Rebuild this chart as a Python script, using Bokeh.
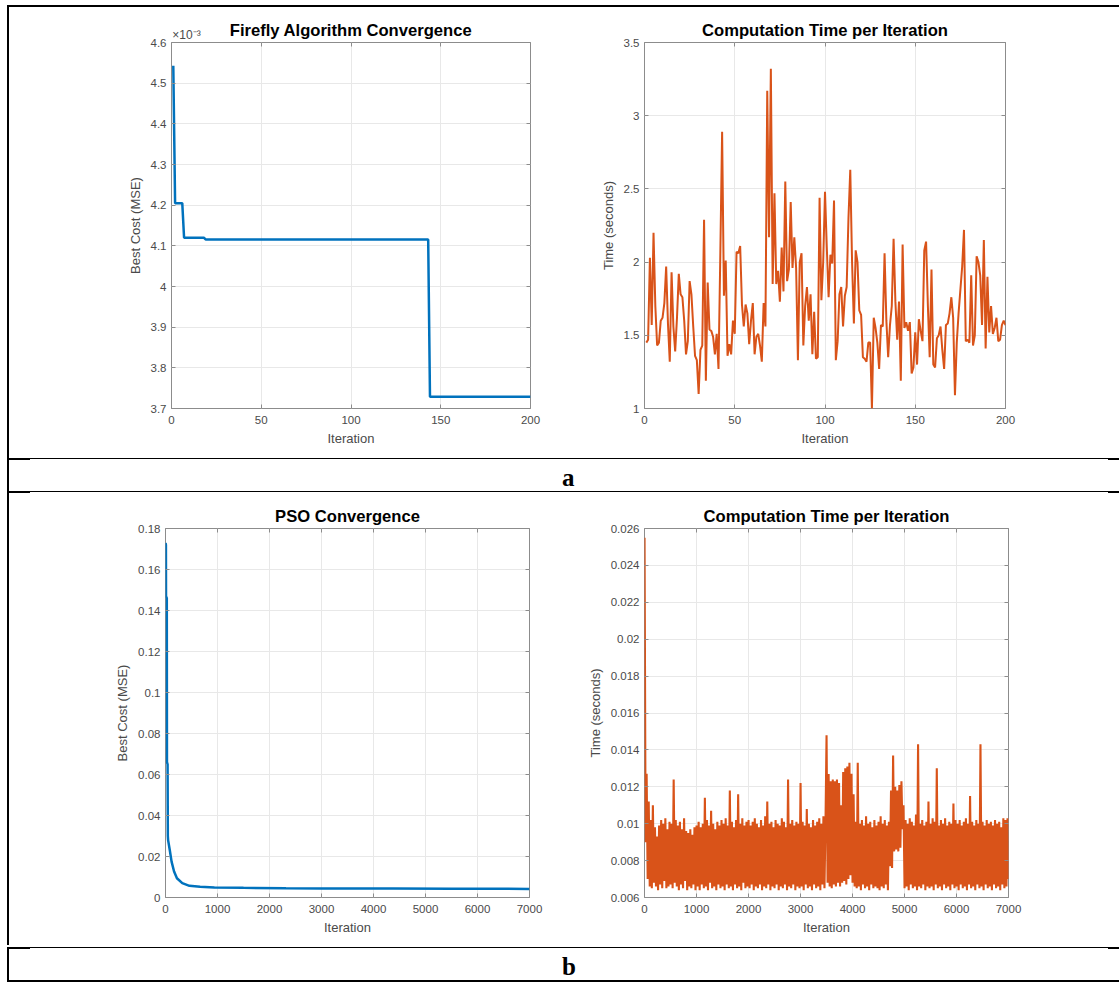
from bokeh.plotting import figure
from bokeh.layouts import row, column
from bokeh.models import (Div, Spacer, FixedTicker, CustomJSTickFormatter, LinearAxis, Range1d)
from bokeh.embed import file_html
from bokeh.resources import INLINE

# ---------------- data ----------------
# (a) Firefly algorithm: best cost per iteration (vertices of the step curve)
ff_cost_iter = [1, 2, 6, 7, 18, 19, 143, 144, 200]
ff_cost = [4.543e-3, 4.205e-3, 4.205e-3, 4.120e-3, 4.120e-3, 4.1156e-3, 4.1156e-3, 3.729e-3, 3.729e-3]

# (a) Firefly algorithm: computation time per iteration (seconds), iterations 1..200
ff_time = [
    1.45, 1.47, 2.03, 1.57, 2.20, 1.70, 1.43, 1.45, 1.60, 1.62,
    1.72, 1.97, 1.58, 1.32, 1.93, 1.56, 1.39, 1.62, 1.92, 1.78,
    1.76, 1.60, 1.37, 1.46, 1.87, 1.78, 1.56, 1.36, 1.33, 1.10,
    1.40, 1.43, 2.29, 1.19, 1.86, 1.54, 1.53, 1.49, 1.37, 1.51,
    1.27, 2.05, 2.89, 1.77, 2.01, 1.36, 1.44, 1.37, 1.60, 1.51,
    2.07, 2.06, 2.11, 1.71, 1.56, 1.71, 1.65, 1.44, 1.60, 1.72,
    1.37, 1.49, 1.51, 1.43, 1.32, 1.72, 1.56, 3.17, 2.17, 3.32,
    1.85, 2.47, 1.85, 1.94, 1.73, 2.10, 1.80, 2.55, 1.87, 1.95,
    2.41, 1.96, 2.17, 1.96, 1.33, 2.00, 2.06, 1.43, 1.70, 1.83,
    1.60, 1.78, 1.37, 1.66, 1.34, 1.35, 2.44, 1.74, 2.00, 2.48,
    2.10, 1.76, 2.05, 1.99, 2.42, 1.33, 1.46, 1.78, 1.83, 1.56,
    1.77, 1.83, 2.30, 2.63, 2.00, 1.58, 2.08, 2.00, 1.67, 1.64,
    1.35, 1.34, 1.32, 1.45, 1.45, 1.00, 1.62, 1.55, 1.45, 1.27,
    1.57, 1.56, 2.06, 1.60, 1.35, 1.57, 1.70, 2.16, 1.73, 1.47,
    1.73, 1.19, 2.12, 1.55, 1.59, 1.53, 1.59, 1.24, 1.28, 1.52,
    1.30, 1.61, 1.53, 1.46, 2.08, 2.14, 1.70, 1.35, 1.95, 1.30,
    1.28, 1.48, 1.50, 1.56, 1.40, 1.27, 1.57, 1.58, 1.65, 1.76,
    1.62, 1.09, 1.45, 1.65, 1.81, 1.97, 2.22, 1.46, 1.47, 1.45,
    1.91, 1.43, 1.50, 2.04, 2.00, 1.91, 1.57, 2.15, 1.41, 1.90,
    1.52, 1.70, 1.51, 1.55, 1.62, 1.46, 1.47, 1.57, 1.60, 1.57,
]
ff_time_iter = list(range(1, 201))

# (b) PSO: best cost (vertices of the convergence curve)
pso_cost_iter = [1, 8, 10, 25, 28, 40, 45, 50, 82, 117, 165, 220, 323, 460, 666, 941,
                 1500, 2315, 3000, 4376, 5500, 7000]
pso_cost = [0.173, 0.172, 0.147, 0.146, 0.066, 0.065, 0.030, 0.028, 0.0232, 0.0175, 0.0127,
            0.0094, 0.0070, 0.0057, 0.0052, 0.0049, 0.0047, 0.0045, 0.0044, 0.0044, 0.0043, 0.0042]

# (b) PSO: computation time per iteration (seconds), sampled every 20 iterations + last
pso_time = [
    # 1 .. 481
    0.0255, 0.0090, 0.0127, 0.0070, 0.0112, 0.0066, 0.0102, 0.0065, 0.0110, 0.0068,
    0.0098, 0.0066, 0.0093, 0.0064, 0.0099, 0.0067, 0.0102, 0.0065, 0.0100, 0.0069,
    0.0103, 0.0065, 0.0097, 0.0066, 0.0101,
    # 501 .. 981
    0.0067, 0.0100, 0.0065, 0.0124, 0.0068, 0.0102, 0.0066, 0.0099, 0.0064, 0.0101,
    0.0067, 0.0097, 0.0065, 0.0103, 0.0069, 0.0096, 0.0064, 0.0095, 0.0066, 0.0097,
    0.0065, 0.0094, 0.0067, 0.0098, 0.0064,
    # 1001 .. 1481
    0.0099, 0.0066, 0.0101, 0.0064, 0.0098, 0.0067, 0.0100, 0.0065, 0.0114, 0.0066,
    0.0102, 0.0064, 0.0099, 0.0068, 0.0107, 0.0065, 0.0100, 0.0066, 0.0097, 0.0064,
    0.0101, 0.0067, 0.0099, 0.0065, 0.0102,
    # 1501 .. 1981
    0.0066, 0.0100, 0.0064, 0.0103, 0.0067, 0.0099, 0.0065, 0.0118, 0.0066, 0.0101,
    0.0064, 0.0098, 0.0067, 0.0102, 0.0065, 0.0116, 0.0066, 0.0100, 0.0064, 0.0103,
    0.0068, 0.0099, 0.0065, 0.0101, 0.0066,
    # 2001 .. 2481
    0.0102, 0.0065, 0.0099, 0.0067, 0.0101, 0.0064, 0.0103, 0.0066, 0.0100, 0.0065,
    0.0098, 0.0067, 0.0102, 0.0064, 0.0099, 0.0066, 0.0104, 0.0065, 0.0112, 0.0067,
    0.0100, 0.0064, 0.0101, 0.0066, 0.0098,
    # 2501 .. 2981
    0.0065, 0.0102, 0.0067, 0.0100, 0.0064, 0.0099, 0.0066, 0.0103, 0.0065, 0.0101,
    0.0067, 0.0098, 0.0064, 0.0124, 0.0066, 0.0100, 0.0065, 0.0102, 0.0067, 0.0099,
    0.0064, 0.0101, 0.0066, 0.0100, 0.0065,
    # 3001 .. 3481
    0.0122, 0.0066, 0.0101, 0.0064, 0.0099, 0.0067, 0.0108, 0.0065, 0.0100, 0.0066,
    0.0098, 0.0064, 0.0102, 0.0067, 0.0099, 0.0065, 0.0101, 0.0066, 0.0103, 0.0064,
    0.0100, 0.0067, 0.0104, 0.0065, 0.0101,
    # 3501 .. 3981
    0.0148, 0.0068, 0.0127, 0.0066, 0.0123, 0.0065, 0.0124, 0.0067, 0.0123, 0.0066,
    0.0124, 0.0068, 0.0122, 0.0066, 0.0110, 0.0068, 0.0128, 0.0069, 0.0130, 0.0067,
    0.0131, 0.0070, 0.0133, 0.0072, 0.0127,
    # 4001 .. 4481
    0.0068, 0.0116, 0.0066, 0.0101, 0.0065, 0.0133, 0.0066, 0.0100, 0.0064, 0.0102,
    0.0067, 0.0099, 0.0065, 0.0104, 0.0066, 0.0100, 0.0064, 0.0101, 0.0067, 0.0098,
    0.0065, 0.0102, 0.0066, 0.0099, 0.0065,
    # 4501 .. 4981
    0.0101, 0.0064, 0.0104, 0.0066, 0.0100, 0.0065, 0.0102, 0.0067, 0.0099, 0.0064,
    0.0101, 0.0077, 0.0118, 0.0076, 0.0137, 0.0085, 0.0120, 0.0086, 0.0118, 0.0085,
    0.0121, 0.0087, 0.0123, 0.0097, 0.0110,
    # 5001 .. 5481
    0.0065, 0.0102, 0.0066, 0.0100, 0.0064, 0.0103, 0.0067, 0.0101, 0.0065, 0.0099,
    0.0066, 0.0105, 0.0064, 0.0143, 0.0066, 0.0100, 0.0065, 0.0102, 0.0067, 0.0099,
    0.0064, 0.0101, 0.0066, 0.0112, 0.0065,
    # 5501 .. 5981
    0.0100, 0.0066, 0.0103, 0.0064, 0.0101, 0.0067, 0.0130, 0.0065, 0.0099, 0.0066,
    0.0102, 0.0064, 0.0100, 0.0067, 0.0103, 0.0065, 0.0099, 0.0066, 0.0101, 0.0064,
    0.0100, 0.0067, 0.0111, 0.0065, 0.0102,
    # 6001 .. 6481
    0.0066, 0.0100, 0.0064, 0.0102, 0.0067, 0.0099, 0.0065, 0.0101, 0.0066, 0.0103,
    0.0064, 0.0100, 0.0067, 0.0115, 0.0065, 0.0101, 0.0066, 0.0099, 0.0064, 0.0102,
    0.0067, 0.0100, 0.0065, 0.0143, 0.0066,
    # 6501 .. 6981, 7000
    0.0101, 0.0064, 0.0099, 0.0067, 0.0102, 0.0065, 0.0100, 0.0066, 0.0101, 0.0064,
    0.0099, 0.0067, 0.0102, 0.0065, 0.0100, 0.0066, 0.0101, 0.0064, 0.0098, 0.0067,
    0.0103, 0.0065, 0.0102, 0.0066, 0.0103,
    0.0070,
]
pso_time_iter = list(range(1, 6982, 20)) + [7000]

# tick values
ff_x_ticks = [0, 50, 100, 150, 200]
ff_cost_ticks = [3.7e-3, 3.8e-3, 3.9e-3, 4.0e-3, 4.1e-3, 4.2e-3, 4.3e-3, 4.4e-3, 4.5e-3, 4.6e-3]
ff_time_ticks = [1, 1.5, 2, 2.5, 3, 3.5]
pso_x_ticks = [0, 1000, 2000, 3000, 4000, 5000, 6000, 7000]
pso_cost_ticks = [0, 0.02, 0.04, 0.06, 0.08, 0.1, 0.12, 0.14, 0.16, 0.18]
pso_time_ticks = [0.006, 0.008, 0.01, 0.012, 0.014, 0.016, 0.018, 0.02, 0.022, 0.024, 0.026]
exponent_text = "\u00a0" * 9 + "×10⁻³"

# ---------------- styling ----------------
BLUE = "#0072BD"
ORANGE = "#D95319"
BOX = "#8c8c8c"
GRID = "#e8e8e8"
TICKTXT = "#4a4a4a"
FONT = "Liberation Sans"
TITLE_SIZE = "16.6px"

PLAIN = "return parseFloat(tick.toFixed(6)).toString();"
MILLI = "return parseFloat((tick*1000).toFixed(4)).toString();"


def make_panel(width, height, mb, title, xr, yr, xt, yt, xlabel, ylabel, yfmt):
    p = figure(width=width, height=height, x_range=Range1d(*xr), y_range=Range1d(*yr),
               output_backend="svg", toolbar_location=None, title=title,
               min_border_left=mb[0], min_border_right=mb[1],
               min_border_top=mb[2], min_border_bottom=mb[3])
    if title is not None:
        p.title.align = "center"
        p.title.text_font = FONT
        p.title.text_font_size = TITLE_SIZE
        p.title.text_font_style = "bold"
        p.title.text_color = "black"
        p.title.standoff = 6
    p.outline_line_color = BOX
    p.outline_line_width = 1
    p.background_fill_color = "white"
    p.border_fill_color = "white"

    xtk = FixedTicker(ticks=xt)
    ytk = FixedTicker(ticks=yt)
    p.xaxis.ticker = xtk
    p.yaxis.ticker = ytk
    p.xgrid.ticker = xtk
    p.ygrid.ticker = ytk
    p.xgrid.grid_line_color = GRID
    p.ygrid.grid_line_color = GRID
    p.xaxis.formatter = CustomJSTickFormatter(code=PLAIN)
    p.yaxis.formatter = CustomJSTickFormatter(code=yfmt)
    p.xaxis.axis_label = xlabel
    p.yaxis.axis_label = ylabel

    for ax in list(p.xaxis) + list(p.yaxis):
        ax.axis_line_color = None
        ax.major_tick_in = 4
        ax.major_tick_out = 0
        ax.major_tick_line_color = BOX
        ax.minor_tick_line_color = None
        ax.major_label_text_font = FONT
        ax.major_label_text_font_size = "11.5px"
        ax.major_label_text_color = TICKTXT
        ax.axis_label_text_font = FONT
        ax.axis_label_text_font_size = "13px"
        ax.axis_label_text_font_style = "normal"
        ax.axis_label_text_color = TICKTXT
        ax.major_label_standoff = 5
        ax.axis_label_standoff = 5
    for ax in p.xaxis:
        ax.major_label_standoff = 7
        ax.axis_label_standoff = 4

    # inner ticks on the top and right edges (box)
    for loc, tk in (("above", xtk), ("right", ytk)):
        ax = LinearAxis(ticker=tk, axis_line_color=None, major_tick_in=4, major_tick_out=0,
                        major_tick_line_color=BOX, minor_tick_line_color=None,
                        major_label_text_font_size="0px", major_label_standoff=0,
                        formatter=CustomJSTickFormatter(code="return '';"))
        p.add_layout(ax, loc)
    return p


# Panel a-left (its title is carried by an extra top axis together with the ×10⁻³ factor)
pa1 = make_panel(551, 451, (162, 30, 35, 50), None,
                 (0, 200), (3.7e-3, 4.6e-3), ff_x_ticks, ff_cost_ticks,
                 "Iteration", "Best Cost (MSE)", MILLI)
pa1.line(ff_cost_iter, ff_cost, line_color=BLUE, line_width=2.5)
exp_axis = LinearAxis(ticker=FixedTicker(ticks=[0]), axis_line_color=None,
                      major_tick_line_color=None, minor_tick_line_color=None,
                      major_tick_in=0, major_tick_out=0,
                      major_label_text_font=FONT, major_label_text_font_size="12px",
                      major_label_text_color=TICKTXT, major_label_standoff=1,
                      formatter=CustomJSTickFormatter(code="return %r;" % exponent_text),
                      axis_label="Firefly Algorithm Convergence",
                      axis_label_text_font=FONT, axis_label_text_font_size=TITLE_SIZE,
                      axis_label_text_font_style="bold", axis_label_text_color="black",
                      axis_label_standoff=-15)
pa1.add_layout(exp_axis, "above")

# Panel a-right
pa2 = make_panel(559, 451, (84, 114, 35, 50), "Computation Time per Iteration",
                 (0, 200), (1, 3.5), ff_x_ticks, ff_time_ticks,
                 "Iteration", "Time (seconds)", PLAIN)
pa2.line(ff_time_iter, ff_time, line_color=ORANGE, line_width=2)

# Panel b-left
pb1 = make_panel(551, 454, (156, 31, 35, 50), "PSO Convergence",
                 (0, 7000), (0, 0.18), pso_x_ticks, pso_cost_ticks,
                 "Iteration", "Best Cost (MSE)", PLAIN)
pb1.line(pso_cost_iter, pso_cost, line_color=BLUE, line_width=2.5)

# Panel b-right
pb2 = make_panel(559, 454, (84, 111, 35, 50), "Computation Time per Iteration",
                 (0, 7000), (0.006, 0.026), pso_x_ticks, pso_time_ticks,
                 "Iteration", "Time (seconds)", PLAIN)
pb2.line(pso_time_iter, pso_time, line_color=ORANGE, line_width=2.1)


# ---------------- frame (table-like border) ----------------
def black(w, h):
    return Div(text="", width=w, height=h, margin=0,
               styles={"background-color": "black", "overflow": "hidden"})


def hline(h):
    return row(Spacer(width=7, height=h), black(1112, h))


def thin_rule():
    # 1px rule with slightly heavier ends, as in the table borders of the original
    return row(Spacer(width=7, height=2), black(23, 2), black(1078, 1), black(11, 2))


def label_row(txt):
    lab = Div(text=txt, width=1110, height=31, margin=0,
              styles={"font-family": "Liberation Serif", "font-weight": "bold",
                      "font-size": "25px", "line-height": "31px", "padding-left": "553px",
                      "padding-top": "2px", "color": "black", "overflow": "hidden",
                      "box-sizing": "border-box"})
    return row(Spacer(width=7, height=31), black(2, 31), lab)


layout = column(
    Spacer(width=1119, height=5),
    hline(2),
    row(Spacer(width=7, height=451), black(2, 451), pa1, pa2),
    thin_rule(),
    label_row("a"),
    thin_rule(),
    row(Spacer(width=7, height=452), black(2, 452), pb1, pb2),
    thin_rule(),
    label_row("b"),
    hline(2),
)

open("out.html", "w").write(file_html(layout, INLINE))
